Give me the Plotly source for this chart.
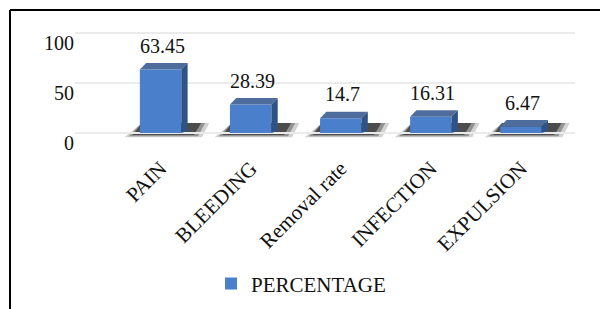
import plotly.graph_objects as go

categories = ["PAIN", "BLEEDING", "Removal rate", "INFECTION", "EXPULSION"]
percentage = [63.45, 28.39, 14.7, 16.31, 6.47]
label_text = ["63.45", "28.39", "14.7", "16.31", "6.47"]
y_ticks = [0, 50, 100]

FONT = "Liberation Serif"
W = 0.46      # bar width (category units)
DX = 0.07     # depth offset x (category units)
DY = 6.5      # depth offset y (value units)

front = "#4a7fcb"
top_c = "#4f6d9c"
side_c = "#2f5387"

fig = go.Figure()
xs = list(range(len(categories)))

# soft shadows below the bars (drawn under traces)
for i, v in zip(xs, percentage):
    for grow, alpha in [(0.09, 0.2), (0.045, 0.35), (0.0, 0.6)]:
        pts = [(i - W / 2 - 0.08 - grow, -2 - grow * 25), (i + W / 2 + 0.14 + grow, -2 - grow * 25),
               (i + W / 2 + 0.22 + grow, 10), (i - W / 2 + 0.02, 10)]
        path = "M " + " L ".join(f"{x},{y}" for x, y in pts) + " Z"
        fig.add_shape(type="path", path=path, xref="x", yref="y", layer="below",
                      fillcolor=f"rgba(30,30,30,{alpha})", line=dict(width=0))

fig.add_trace(go.Bar(x=xs, y=percentage, width=W, marker=dict(color=front, line=dict(width=0)),
                     name="PERCENTAGE"))

for i, v in zip(xs, percentage):
    xl, xr = i - W / 2, i + W / 2
    fig.add_trace(go.Scatter(x=[xl, xr, xr + DX, xl + DX, xl], y=[v, v, v + DY, v + DY, v],
                             fill="toself", mode="none", fillcolor=top_c,
                             showlegend=False, hoverinfo="skip"))
    fig.add_trace(go.Scatter(x=[xr, xr + DX, xr + DX, xr, xr], y=[0, DY * 0.3, v + DY, v, 0],
                             fill="toself", mode="none", fillcolor=side_c,
                             showlegend=False, hoverinfo="skip"))

for i, v, t in zip(xs, percentage, label_text):
    fig.add_annotation(x=i + 0.02, y=v, text=t, showarrow=False, yanchor="middle", yshift=24,
                       font=dict(family=FONT, size=20, color="#111"))

fig.update_layout(
    width=608, height=309,
    margin=dict(l=67, r=41, t=13, b=172, autoexpand=False),
    paper_bgcolor="white", plot_bgcolor="white",
    font=dict(family=FONT, size=19, color="#111"),
    showlegend=True,
    legend=dict(orientation="h", x=0.452, xanchor="center", y=-1.12, yanchor="middle",
                font=dict(family=FONT, size=21, color="#111"), itemwidth=30),
    bargap=0.5,
)
fig.update_xaxes(range=[-0.95, 4.6], tickmode="array", tickvals=xs, ticktext=categories,
                 tickangle=-45, showgrid=False, zeroline=False, showline=False, ticks="",
                 automargin=False, ticklabelstandoff=6,
                 tickfont=dict(family=FONT, size=21, color="#111"))
fig.update_yaxes(range=[-12, 112], tickmode="array", tickvals=y_ticks,
                 showgrid=True, gridcolor="#ebebeb", gridwidth=2, zeroline=False,
                 showline=False, ticks="", ticklabelshift=10, automargin=False,
                 tickfont=dict(family=FONT, size=20, color="#111"))

# frame (top and left border)
fig.add_shape(type="line", xref="paper", yref="paper", x0=-0.13, x1=1.2, y0=1.089, y1=1.089,
              line=dict(color="black", width=2))
fig.add_shape(type="line", xref="paper", yref="paper", x0=-0.13, x1=-0.13, y0=1.089, y1=-1.5,
              line=dict(color="black", width=2))

fig.write_html("out.html")
